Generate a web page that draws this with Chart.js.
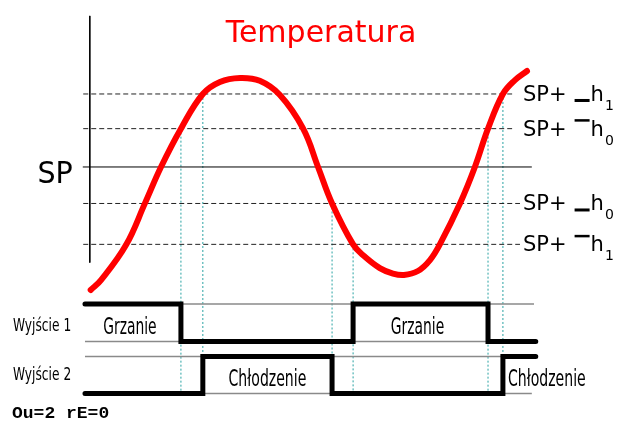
<!DOCTYPE html>
<html>
<head>
<meta charset="utf-8">
<script src="https://cdn.jsdelivr.net/npm/chart.js@4"></script>
<style>
html,body{margin:0;padding:0;background:#fff;overflow:hidden}
#wrap{width:619px;height:421px;position:relative}
canvas{display:block}
</style>
</head>
<body>
<div id="wrap"><canvas id="c" width="619" height="421"></canvas></div>
<script>
// ---- data (time in arbitrary units, temperature as deviation from SP) ----
const title = 'Temperatura';
const spLabel = 'SP';
const tempTimes  = [0.2, 2.55, 8.26, 12.6, 16.25, 20.8, 25.8, 29.7, 34.3, 38.8, 43.4, 48.7, 52.1, 55.3, 60.1, 62.6, 66.2, 69.2, 71.7, 74.9, 77.65, 79.9, 84.5, 87.9, 90.9, 94.3, 97.05, 99.8];
const tempValues = [-3.37, -3.10, -2.14, -0.99, 0, 1.05, 2.0, 2.33, 2.44, 2.36, 1.97, 1.05, 0, -1.0, -2.12, -2.44, -2.77, -2.92, -2.96, -2.85, -2.55, -2.12, -1.0, 0, 1.05, 2.0, 2.38, 2.63];
const thresholdValues = [2.0, 1.05, -1.0, -2.12];
const thresholdBars   = ['low', 'high', 'low', 'high'];   // position of the h mark
const thresholdSubs   = ['1', '0', '0', '1'];
const switchTimes  = [20.8, 25.8, 55.3, 60.1, 90.9, 94.3];
const switchLevels = [1.05, 2.0, -1.0, -2.12, 1.05, 2.0];
const out1Times  = [-1.1, 20.8, 60.1, 90.9, 101.8];
const out1States = [1, 0, 1, 0, 0];
const out2Times  = [-1.1, 25.8, 55.3, 94.3, 101.8];
const out2States = [0, 1, 0, 1, 1];
const rowLabels = ['Wyjście 1', 'Wyjście 2'];
const out1Name = 'Grzanie';
const out2Name = 'Chłodzenie';
const footer = 'Ou=2 rE=0';

// ---- extents of the guide lines (time units) ----
const tStart = -1.1, tRowEnd = 101.4, tSpStart = -1.6, tSpEnd = 100.9;
const dashEnds = [96.4, 96.4, 98.2, 98.2];
const axisTop = 4.14, axisBottom = -2.62, guideBottom = -6.19;

const pts = (xs, ys) => xs.map((x, i) => ({x, y: ys[i]}));
const datasets = [];

datasets.push({
  label: 'temperatura', data: pts(tempTimes, tempValues), yAxisID: 'yT',
  borderColor: '#ff0000', borderWidth: 6, tension: 0.4,
  borderCapStyle: 'round', borderJoinStyle: 'round', pointRadius: 0, order: 0
});
datasets.push({
  label: rowLabels[0], data: pts(out1Times, out1States), yAxisID: 'y1', stepped: 'before',
  borderColor: '#000', borderWidth: 5, borderCapStyle: 'round', borderJoinStyle: 'miter', pointRadius: 0, order: 1
});
datasets.push({
  label: rowLabels[1], data: pts(out2Times, out2States), yAxisID: 'y2', stepped: 'before',
  borderColor: '#000', borderWidth: 5, borderCapStyle: 'round', borderJoinStyle: 'miter', pointRadius: 0, order: 1
});
// row reference lines
[['y1', 1, tRowEnd], ['y1', 0, tRowEnd], ['y2', 1, tRowEnd], ['y2', 0, tSpEnd]].forEach(([ax, lv, end]) => {
  datasets.push({data: [{x: tStart, y: lv}, {x: end, y: lv}], yAxisID: ax,
    borderColor: '#8a8a8a', borderWidth: 1.5, pointRadius: 0, order: 2});
});
// SP line and vertical axis
datasets.push({data: [{x: tSpStart, y: 0}, {x: tSpEnd, y: 0}], yAxisID: 'yT',
  borderColor: '#000', borderWidth: 1, pointRadius: 0, order: 3});
datasets.push({data: [{x: 0, y: axisTop}, {x: 0, y: axisBottom}], yAxisID: 'yT',
  borderColor: '#000', borderWidth: 1, pointRadius: 0, order: 3});
// dashed hysteresis lines
thresholdValues.forEach((v, i) => {
  datasets.push({data: [{x: -1.5, y: v}, {x: dashEnds[i], y: v}], yAxisID: 'yT',
    borderColor: '#222', borderWidth: 1, borderDash: [5, 3], pointRadius: 0, order: 3});
});
// dotted switching guides
switchTimes.forEach((t, i) => {
  datasets.push({data: [{x: t, y: switchLevels[i]}, {x: t, y: guideBottom}], yAxisID: 'yT',
    borderColor: '#2aa3a3', borderWidth: 1, borderDash: [2, 2], pointRadius: 0, order: 4});
});

function txt(ctx, s, x, y, font, color, align, sx, sy) {
  ctx.save();
  ctx.font = font; ctx.fillStyle = color; ctx.textAlign = align || 'left'; ctx.textBaseline = 'alphabetic';
  ctx.translate(x, y); ctx.scale(sx || 1, sy || 1);
  ctx.fillText(s, 0, 0);
  ctx.restore();
}

const textPlugin = {
  id: 'diagramTexts',
  afterDatasetsDraw(chart) {
    const ctx = chart.ctx;
    const X = chart.scales.x, YT = chart.scales.yT, Y1 = chart.scales.y1, Y2 = chart.scales.y2;
    // title
    txt(ctx, title, 321, 41.5, '30px "DejaVu Sans"', '#ff0000', 'center');
    // SP
    txt(ctx, spLabel, X.getPixelForValue(0) - 17, YT.getPixelForValue(0) + 16, '30px "DejaVu Sans"', '#000', 'right', 0.95, 1);
    // threshold labels
    thresholdValues.forEach((v, i) => {
      const base = YT.getPixelForValue(v) + 7;
      let x = 523;
      ctx.save();
      ctx.font = '21px "DejaVu Sans"'; ctx.fillStyle = '#000'; ctx.textBaseline = 'alphabetic'; ctx.textAlign = 'left';
      ctx.fillText('SP+', x, base);
      x += ctx.measureText('SP+').width + 8;
      if (thresholdBars[i] === 'low') ctx.fillRect(x, base - 2, 15, 3);
      else ctx.fillRect(x, base - 16.5, 15, 2.5);
      x += 16;
      ctx.fillText('h', x, base);
      x += ctx.measureText('h').width + 1;
      ctx.font = '14px "DejaVu Sans"';
      ctx.fillText(thresholdSubs[i], x, base + 9);
      ctx.restore();
    });
    // row labels
    const rowFont = '17px "DejaVu Sans Condensed", sans-serif';
    txt(ctx, rowLabels[0], 13, Y1.getPixelForValue(0) - 11, rowFont, '#000', 'left', 0.8, 1);
    txt(ctx, rowLabels[1], 13, Y2.getPixelForValue(0) - 13.5, rowFont, '#000', 'left', 0.8, 1);
    const stateFont = '23px "DejaVu Sans Condensed", sans-serif';
    // Grzanie inside heating intervals
    for (let i = 0; i < out1Times.length - 1; i++) {
      if (out1States[i] === 1) {
        const cx = (X.getPixelForValue(out1Times[i]) + X.getPixelForValue(out1Times[i + 1])) / 2;
        txt(ctx, out1Name, cx - 3, Y1.getPixelForValue(0) - 7.5, stateFont, '#000', 'center', 0.67, 1);
      }
    }
    // Chłodzenie inside cooling intervals
    for (let i = 0; i < out2Times.length - 1; i++) {
      if (out2States[i] === 1) {
        const a = X.getPixelForValue(out2Times[i]), b = X.getPixelForValue(out2Times[i + 1]);
        const base = Y2.getPixelForValue(0) - 7.5;
        if (b - a > 90) txt(ctx, out2Name, (a + b) / 2, base, stateFont, '#000', 'center', 0.68, 1);
        else txt(ctx, out2Name, a + 5, base, stateFont, '#000', 'left', 0.68, 1);
      }
    }
    // footer
    txt(ctx, footer, 12, 418.3, 'bold 18px "Liberation Mono", "DejaVu Sans Mono", monospace', '#000', 'left', 1, 0.9);
  }
};

new Chart(document.getElementById('c'), {
  type: 'line',
  data: {datasets},
  options: {
    responsive: false, animation: false, devicePixelRatio: 1,
    layout: {padding: 0},
    plugins: {legend: {display: false}, tooltip: {enabled: false}, title: {display: false}},
    elements: {line: {fill: false}},
    scales: {
      x:  {type: 'linear', min: -20.5, max: 120.8, display: false},
      yT: {type: 'linear', min: -6.96, max: 4.575, display: false},
      y1: {type: 'linear', min: -2.12, max: 9.107, display: false},
      y2: {type: 'linear', min: -0.743, max: 10.635, display: false}
    }
  },
  plugins: [textPlugin]
});
</script>
</body>
</html>
